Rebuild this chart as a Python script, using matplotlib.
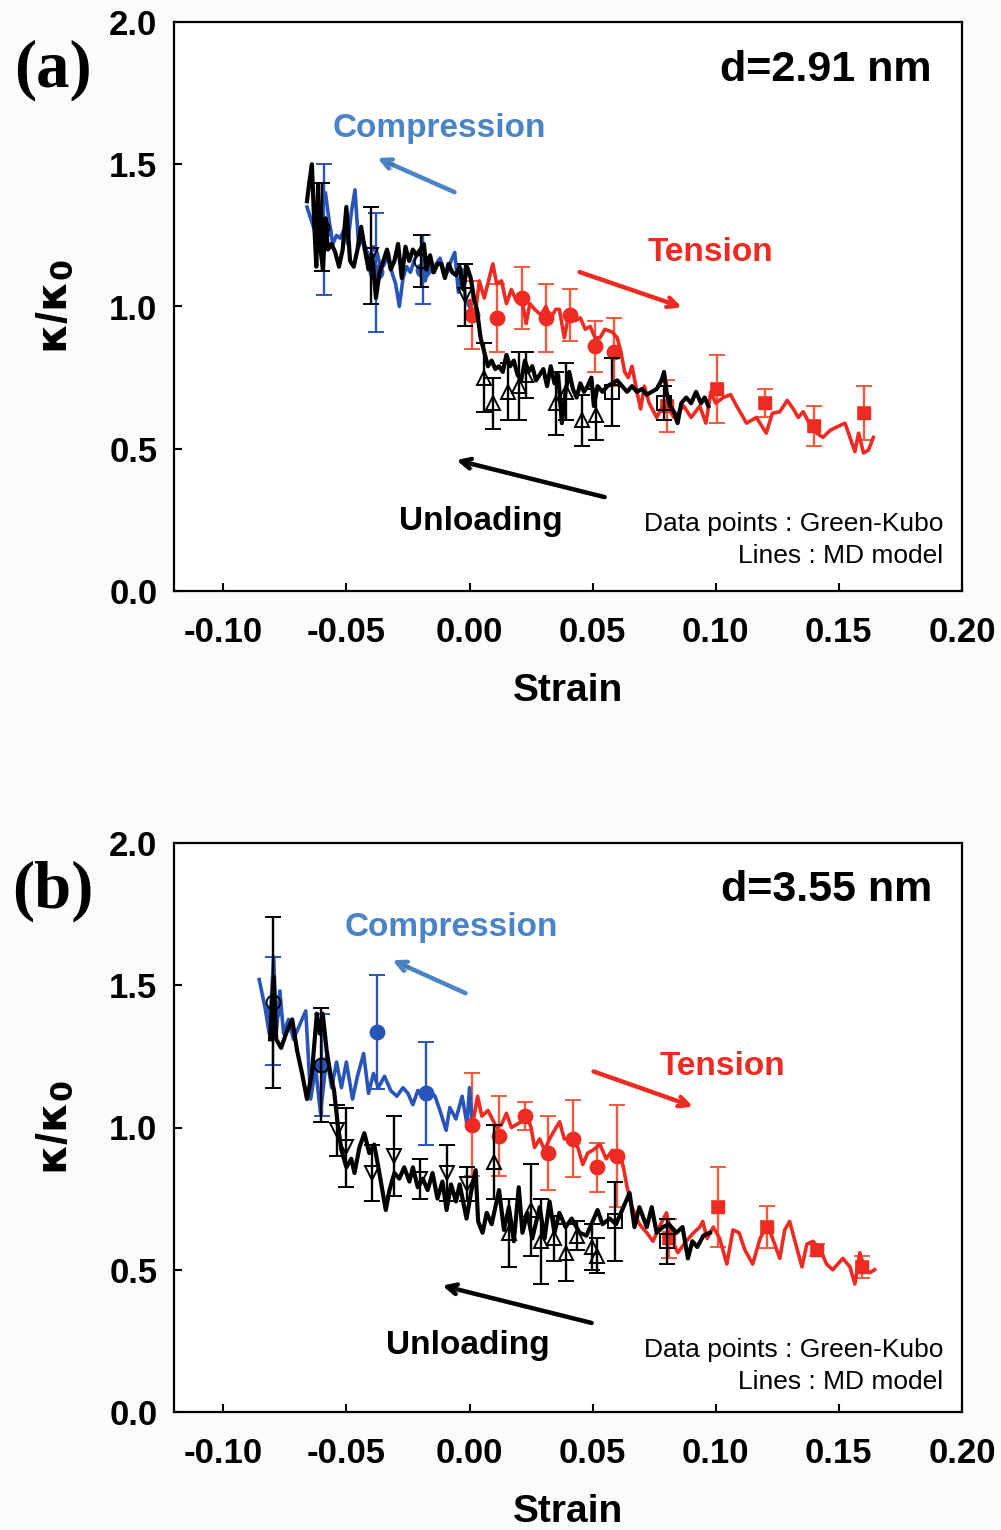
import matplotlib
matplotlib.use('Agg')
import matplotlib.pyplot as plt
import matplotlib.patheffects as pe

plt.rcParams['font.family'] = ['Liberation Sans', 'DejaVu Sans']

# ---------------- panel (a), d = 2.91 nm ----------------
blue_a_x = [-0.066, -0.0645, -0.063, -0.0615, -0.060, -0.0585, -0.057, -0.0555, -0.054, -0.0525,
            -0.051, -0.0495, -0.048, -0.0465, -0.045, -0.0435, -0.042, -0.0405, -0.039, -0.0375,
            -0.036, -0.0345, -0.033, -0.0315, -0.030, -0.0285, -0.027, -0.0255, -0.024, -0.0225,
            -0.021, -0.0195, -0.018, -0.0165, -0.015, -0.0135, -0.012, -0.0105, -0.009, -0.0075,
            -0.006, -0.0045, -0.003, -0.0015, 0.0]
blue_a_y = [1.35, 1.31, 1.27, 1.26, 1.33, 1.40, 1.30, 1.22, 1.25, 1.24,
            1.27, 1.22, 1.33, 1.41, 1.21, 1.24, 1.20, 1.17, 1.21, 1.19,
            1.13, 1.15, 1.19, 1.12, 1.08, 1.00, 1.10, 1.14, 1.12, 1.16,
            1.19, 1.18, 1.09, 1.14, 1.12, 1.15, 1.17, 1.13, 1.12, 1.16,
            1.19, 1.05, 1.13, 1.02, 1.00]

black_a_x = [-0.0660, -0.0650, -0.0640, -0.0630, -0.0622, -0.0615, -0.0605, -0.0595, -0.0585, -0.0575,
             -0.0560, -0.0545, -0.0530, -0.0515, -0.0500, -0.0485, -0.0470, -0.0455, -0.0440, -0.0425,
             -0.0410, -0.0395, -0.0380, -0.0365, -0.0350, -0.0335, -0.0320, -0.0305, -0.0290, -0.0275,
             -0.0260, -0.0245, -0.0230, -0.0215, -0.0200, -0.0185, -0.0175, -0.0160, -0.0145, -0.0130,
             -0.0115, -0.0100, -0.0085, -0.0070, -0.0055, -0.0040, -0.0025, -0.0010, 0.0005, 0.0020,
             0.0030, 0.0045, 0.0060, 0.0075, 0.0090, 0.0105, 0.0120, 0.0135, 0.0150, 0.0165,
             0.0180, 0.0195, 0.0210, 0.0225, 0.0240, 0.0255, 0.0270, 0.0285, 0.0300, 0.0315,
             0.0330, 0.0345, 0.0360, 0.0375, 0.0390, 0.0405, 0.0420, 0.0435, 0.0450, 0.0465,
             0.0480, 0.0495, 0.0505, 0.0520, 0.0540, 0.0560, 0.0580, 0.0600, 0.0620, 0.0640,
             0.0660, 0.0680, 0.0700, 0.0720, 0.0740, 0.0760, 0.0780, 0.0790, 0.0800, 0.0815,
             0.0830, 0.0845, 0.0860, 0.0880, 0.0900, 0.0920, 0.0940, 0.0955, 0.0970]
black_a_y = [1.37, 1.44, 1.50, 1.28, 1.14, 1.43, 1.20, 1.13, 1.31, 1.20,
             1.22, 1.19, 1.14, 1.20, 1.35, 1.16, 1.14, 1.20, 1.28, 1.20,
             1.13, 1.18, 1.03, 1.12, 1.16, 1.20, 1.13, 1.16, 1.22, 1.10,
             1.21, 1.16, 1.20, 1.18, 1.20, 1.22, 1.13, 1.18, 1.12, 1.15,
             1.15, 1.10, 1.15, 1.12, 1.11, 1.14, 1.06, 1.14, 1.10, 1.02,
             0.99, 0.89, 0.84, 0.79, 0.81, 0.78, 0.79, 0.77, 0.83, 0.79,
             0.81, 0.76, 0.74, 0.81, 0.77, 0.79, 0.74, 0.76, 0.78, 0.72,
             0.79, 0.73, 0.76, 0.59, 0.70, 0.77, 0.71, 0.68, 0.73, 0.70,
             0.72, 0.75, 0.65, 0.72, 0.70, 0.72, 0.73, 0.74, 0.72, 0.70,
             0.72, 0.70, 0.71, 0.69, 0.70, 0.71, 0.74, 0.77, 0.70, 0.65,
             0.63, 0.59, 0.66, 0.68, 0.66, 0.70, 0.66, 0.68, 0.65]

red_a_x = [0.0000, 0.0020, 0.0040, 0.0060, 0.0080, 0.0095, 0.0110, 0.0130, 0.0150, 0.0170,
           0.0190, 0.0210, 0.0230, 0.0245, 0.0265, 0.0290, 0.0310, 0.0330, 0.0350, 0.0365,
           0.0385, 0.0405, 0.0430, 0.0450, 0.0470, 0.0490, 0.0510, 0.0530, 0.0550, 0.0580,
           0.0600, 0.0615, 0.0630, 0.0645, 0.0660, 0.0680, 0.0695, 0.0710, 0.0730, 0.0760,
           0.0790, 0.0810, 0.0830, 0.0870, 0.0900, 0.0935, 0.0960, 0.0980, 0.1000, 0.1030,
           0.1060, 0.1085, 0.1125, 0.1165, 0.1205, 0.1230, 0.1260, 0.1290, 0.1315, 0.1335,
           0.1355, 0.1380, 0.1410, 0.1435, 0.1465, 0.1500, 0.1525, 0.1545, 0.1565, 0.1580,
           0.1600, 0.1620, 0.1640]
red_a_y = [1.02, 0.95, 1.09, 1.03, 1.10, 1.15, 1.08, 1.09, 1.01, 1.06,
           1.02, 1.04, 0.94, 1.01, 0.99, 0.97, 1.00, 0.96, 0.99, 0.99,
           0.89, 0.98, 0.95, 0.96, 0.92, 0.93, 0.89, 0.89, 0.92, 0.91,
           0.89, 0.84, 0.77, 0.75, 0.79, 0.70, 0.64, 0.72, 0.66, 0.61,
           0.66, 0.64, 0.61, 0.65, 0.61, 0.65, 0.59, 0.70, 0.66, 0.68,
           0.69, 0.65, 0.59, 0.61, 0.555, 0.625, 0.63, 0.67, 0.64, 0.61,
           0.63, 0.59, 0.555, 0.54, 0.565, 0.58, 0.59, 0.54, 0.49, 0.555,
           0.485, 0.495, 0.54]

# Green-Kubo points (a)
comp_a_x = [-0.059, -0.038, -0.019]
comp_a_y = [1.27, 1.12, 1.13]
comp_a_err = [0.23, 0.21, 0.12]

unl_a_circ_x = [-0.060, -0.0195]
unl_a_circ_y = [1.28, 1.16]
unl_a_circ_err = [0.155, 0.09]
unl_a_dtri_x = [-0.040, -0.002]
unl_a_dtri_y = [1.18, 1.04]
unl_a_dtri_err = [0.17, 0.11]
unl_a_utri_x = [0.006, 0.0095, 0.0155, 0.020, 0.023, 0.035, 0.039, 0.0455, 0.0515]
unl_a_utri_y = [0.75, 0.66, 0.70, 0.72, 0.76, 0.66, 0.70, 0.60, 0.62]
unl_a_utri_err = [0.12, 0.09, 0.10, 0.12, 0.08, 0.11, 0.10, 0.09, 0.09]
unl_a_sq_x = [0.058, 0.079]
unl_a_sq_y = [0.70, 0.66]
unl_a_sq_err = [0.12, 0.06]

tens_a_circ_x = [0.001, 0.011, 0.0215, 0.031, 0.041, 0.051, 0.0585]
tens_a_circ_y = [0.97, 0.96, 1.03, 0.96, 0.97, 0.86, 0.84]
tens_a_circ_err = [0.12, 0.12, 0.11, 0.12, 0.09, 0.09, 0.12]
tens_a_sq_x = [0.080, 0.1004, 0.120, 0.140, 0.160]
tens_a_sq_y = [0.65, 0.71, 0.66, 0.58, 0.625]
tens_a_sq_err = [0.09, 0.12, 0.05, 0.07, 0.095]

# ---------------- panel (b), d = 3.55 nm ----------------
blue_b_x = [-0.0854, -0.0830, -0.0813, -0.0795, -0.0785, -0.0770, -0.0755, -0.0735, -0.0715, -0.0690,
            -0.0665, -0.0645, -0.0625, -0.0605, -0.0580, -0.0560, -0.0540, -0.0520, -0.0500, -0.0475,
            -0.0455, -0.0430, -0.0410, -0.0390, -0.0370, -0.0345, -0.0320, -0.0295, -0.0270, -0.0250,
            -0.0230, -0.0210, -0.0185, -0.0165, -0.0140, -0.0120, -0.0095, -0.0080, -0.0055, -0.0030,
            -0.0010, 0.0000, 0.0012, 0.0024]
blue_b_y = [1.52, 1.42, 1.33, 1.60, 1.33, 1.48, 1.33, 1.38, 1.31, 1.36,
            1.41, 1.10, 1.21, 1.05, 1.25, 1.14, 1.23, 1.14, 1.23, 1.10,
            1.18, 1.26, 1.12, 1.19, 1.14, 1.18, 1.13, 1.11, 1.14, 1.12,
            1.08, 1.13, 1.10, 1.13, 1.11, 1.06, 0.99, 1.07, 1.03, 1.11,
            1.01, 1.14, 1.01, 1.00]

black_b_x = [-0.0810, -0.0795, -0.0785, -0.0765, -0.0745, -0.0720, -0.0700, -0.0680, -0.0660, -0.0640,
             -0.0620, -0.0608, -0.0596, -0.0580, -0.0565, -0.0550, -0.0535, -0.0520, -0.0500, -0.0480,
             -0.0467, -0.0447, -0.0427, -0.0407, -0.0387, -0.0366, -0.0340, -0.0325, -0.0305, -0.0285,
             -0.0265, -0.0244, -0.0230, -0.0210, -0.0190, -0.0170, -0.0150, -0.0130, -0.0110, -0.0093,
             -0.0075, -0.0055, -0.0040, -0.0012, 0.0008, 0.0025, 0.0035, 0.0053, 0.0070, 0.0090,
             0.0120, 0.0140, 0.0160, 0.0180, 0.0200, 0.0215, 0.0235, 0.0255, 0.0285, 0.0305,
             0.0325, 0.0345, 0.0365, 0.0390, 0.0415, 0.0447, 0.0475, 0.0500, 0.0520, 0.0540,
             0.0570, 0.0595, 0.0620, 0.0650, 0.0670, 0.0690, 0.0720, 0.0740, 0.0760, 0.0785,
             0.0810, 0.0840, 0.0865, 0.0887, 0.0905, 0.0925, 0.0950, 0.0976]
black_b_y = [1.31, 1.53, 1.31, 1.28, 1.33, 1.38, 1.27, 1.19, 1.10, 1.19,
             1.40, 1.33, 1.40, 1.27, 1.19, 1.13, 1.01, 0.92, 0.86, 0.89,
             0.84, 0.93, 0.98, 0.91, 0.94, 0.84, 0.71, 0.78, 0.84, 0.82,
             0.86, 0.81, 0.86, 0.79, 0.82, 0.78, 0.84, 0.75, 0.81, 0.71,
             0.80, 0.74, 0.80, 0.68, 0.78, 0.85, 0.67, 0.63, 0.70, 0.66,
             0.78, 0.64, 0.72, 0.60, 0.79, 0.63, 0.70, 0.61, 0.72, 0.61,
             0.74, 0.63, 0.70, 0.65, 0.68, 0.63, 0.62, 0.67, 0.71, 0.66,
             0.68, 0.66, 0.71, 0.77, 0.65, 0.72, 0.65, 0.72, 0.63, 0.65,
             0.66, 0.63, 0.65, 0.54, 0.60, 0.58, 0.62, 0.63]

red_b_x = [0.0010, 0.0033, 0.0050, 0.0075, 0.0110, 0.0130, 0.0150, 0.0170, 0.0190, 0.0210,
           0.0230, 0.0250, 0.0264, 0.0285, 0.0305, 0.0325, 0.0345, 0.0366, 0.0385, 0.0415,
           0.0440, 0.0460, 0.0480, 0.0500, 0.0530, 0.0555, 0.0580, 0.0610, 0.0625, 0.0640,
           0.0660, 0.0690, 0.0720, 0.0745, 0.0770, 0.0800, 0.0825, 0.0846, 0.0880, 0.0910,
           0.0935, 0.0947, 0.0965, 0.0990, 0.1016, 0.1045, 0.1070, 0.1095, 0.1118, 0.1150,
           0.1180, 0.1210, 0.1235, 0.1260, 0.1280, 0.1300, 0.1325, 0.1350, 0.1370, 0.1395,
           0.1425, 0.1450, 0.1475, 0.1516, 0.1545, 0.1565, 0.1585, 0.1605, 0.1626, 0.1645]
red_b_y = [1.00, 1.11, 1.04, 1.06, 1.00, 1.01, 1.05, 1.00, 1.01, 1.02,
           1.05, 1.00, 0.93, 0.96, 0.92, 0.96, 0.99, 1.02, 0.96, 0.96,
           0.93, 0.87, 0.91, 0.92, 0.94, 0.89, 0.92, 0.91, 0.86, 0.79,
           0.72, 0.66, 0.63, 0.60, 0.65, 0.70, 0.60, 0.56, 0.60, 0.63,
           0.65, 0.67, 0.61, 0.65, 0.61, 0.52, 0.64, 0.63, 0.57, 0.52,
           0.61, 0.66, 0.60, 0.54, 0.64, 0.67, 0.59, 0.51, 0.59, 0.60,
           0.57, 0.52, 0.50, 0.54, 0.51, 0.45, 0.56, 0.50, 0.49, 0.50]

comp_b_x = [-0.080, -0.060, -0.0374, -0.0175]
comp_b_y = [1.41, 1.22, 1.335, 1.12]
comp_b_err = [0.19, 0.18, 0.20, 0.18]

unl_b_circ_x = [-0.0798, -0.0605]
unl_b_circ_y = [1.44, 1.22]
unl_b_circ_err = [0.30, 0.20]
unl_b_dtri_x = [-0.054, -0.050, -0.0394, -0.0305, -0.0203, -0.0093, -0.001]
unl_b_dtri_y = [0.99, 0.93, 0.84, 0.90, 0.82, 0.84, 0.80]
unl_b_dtri_err = [0.09, 0.14, 0.10, 0.14, 0.07, 0.10, 0.06]
unl_b_utri_x = [0.010, 0.016, 0.025, 0.029, 0.0345, 0.039, 0.0435, 0.0496, 0.0516]
unl_b_utri_y = [0.88, 0.63, 0.71, 0.60, 0.61, 0.56, 0.62, 0.58, 0.55]
unl_b_utri_err = [0.13, 0.12, 0.16, 0.15, 0.08, 0.10, 0.05, 0.08, 0.06]
unl_b_sq_x = [0.059, 0.080]
unl_b_sq_y = [0.67, 0.60]
unl_b_sq_err = [0.14, 0.08]

tens_b_circ_x = [0.001, 0.012, 0.0224, 0.0318, 0.042, 0.0516, 0.060]
tens_b_circ_y = [1.01, 0.97, 1.04, 0.91, 0.96, 0.86, 0.90]
tens_b_circ_err = [0.18, 0.14, 0.05, 0.13, 0.135, 0.085, 0.18]
tens_b_sq_x = [0.081, 0.101, 0.1207, 0.141, 0.1594]
tens_b_sq_y = [0.61, 0.72, 0.65, 0.57, 0.51]
tens_b_sq_err = [0.07, 0.14, 0.075, 0.02, 0.04]

xticks = [-0.10, -0.05, 0.00, 0.05, 0.10, 0.15, 0.20]
yticks = [0.0, 0.5, 1.0, 1.5, 2.0]

BLUE = '#2a55b8'
BLUE_TXT = '#4a84c6'
RED = '#ee2b22'
RED_BAR = '#f05a3e'
BLACK = '#000000'

W, H = 1001, 1530
fig = plt.figure(figsize=(W / 100, H / 100), dpi=100, facecolor='#fbfbfd')


def err(ax, x, y, e, color, marker, ms, filled, z):
    ax.errorbar(x, y, yerr=e, fmt=marker, color=color, ecolor=color, elinewidth=1.7,
                capsize=6, capthick=1.7, markersize=ms,
                markerfacecolor=color if filled else 'none',
                markeredgecolor=color, markeredgewidth=1.4, zorder=z)


def arrow(ax, tail, head, color):
    ax.annotate('', xy=head, xytext=tail, xycoords='data',
                arrowprops=dict(arrowstyle='->,head_length=0.7,head_width=0.35',
                                color=color, lw=3.2, shrinkA=0, shrinkB=0,
                                path_effects=[pe.withSimplePatchShadow(offset=(2, -2), alpha=0.25)]),
                zorder=6)


def panel(top_px, d_label, tag, blue, black, red, comp, unl, tens, ann):
    bottom_px = top_px + 569
    ax = fig.add_axes([174 / W, 1 - bottom_px / H, 788 / W, 569 / H])
    ax.set_facecolor('white')
    ax.set_xlim(-0.12, 0.20)
    ax.set_ylim(0.0, 2.0)
    ax.set_xticks(xticks)
    ax.set_yticks(yticks)
    ax.set_xticklabels(['%.2f' % v for v in xticks])
    ax.set_yticklabels(['%.1f' % v for v in yticks])
    ax.tick_params(direction='in', length=6, width=1.5, top=False, right=False)
    ax.tick_params(axis='x', pad=18, labelsize=25)
    ax.tick_params(axis='y', pad=12, labelsize=25)
    for lab in ax.get_xticklabels() + ax.get_yticklabels():
        lab.set_fontweight('bold')
    for s in ax.spines.values():
        s.set_linewidth(1.6)

    # MD model lines
    ax.plot(blue[0], blue[1], color=BLUE, lw=2.6, zorder=3)
    ax.plot(red[0], red[1], color=RED, lw=2.6, zorder=3)
    ax.plot(black[0], black[1], color=BLACK, lw=3.0, zorder=4)

    # Green-Kubo points
    err(ax, comp[0], comp[1], comp[2], BLUE, 'o', 10, True, 2)
    err(ax, tens[0][0], tens[0][1], tens[0][2], RED_BAR, 'o', 10, True, 2)
    err(ax, tens[1][0], tens[1][1], tens[1][2], RED_BAR, 's', 9, True, 2)
    ax.plot(tens[0][0], tens[0][1], 'o', color=RED, ms=10, zorder=3.5)
    ax.plot(tens[1][0], tens[1][1], 's', color=RED, ms=9, zorder=3.5)
    for (xs, ys, es), m in zip(unl, ['o', 'v', '^', 's']):
        err(ax, xs, ys, es, BLACK, m, 10, False, 5)

    ax.set_xlabel('Strain', fontsize=28, fontweight='bold')
    ax.xaxis.set_label_coords(0.5, -0.176)
    ax.xaxis.label.set_va('center')
    ax.set_ylabel(r'$\mathbf{\kappa}$/$\mathbf{\kappa}_{\mathbf{0}}$', fontsize=31,
                  fontweight='bold')
    ax.yaxis.set_label_coords(-0.151, 0.5)
    ax.yaxis.label.set_va('center')

    ax.text(0.1878, ann['d'], d_label, ha='right', va='center', fontsize=31,
            fontweight='bold', zorder=7)
    ax.text(ann['comp_txt'][0], ann['comp_txt'][1], 'Compression', color=BLUE_TXT,
            ha='center', va='center', fontsize=24, fontweight='bold', zorder=7)
    ax.text(ann['tens_txt'][0], ann['tens_txt'][1], 'Tension', color=RED,
            ha='center', va='center', fontsize=24, fontweight='bold', zorder=7)
    ax.text(ann['unl_txt'][0], ann['unl_txt'][1], 'Unloading', color=BLACK,
            ha='center', va='center', fontsize=24, fontweight='bold', zorder=7)
    arrow(ax, ann['comp_arr'][0], ann['comp_arr'][1], BLUE_TXT)
    arrow(ax, ann['tens_arr'][0], ann['tens_arr'][1], RED)
    arrow(ax, ann['unl_arr'][0], ann['unl_arr'][1], BLACK)
    ax.text(0.1923, ann['note'][0], 'Data points : Green-Kubo', ha='right', va='center',
            fontsize=19, zorder=7)
    ax.text(0.1923, ann['note'][1], 'Lines : MD model', ha='right', va='center',
            fontsize=19, zorder=7)

    fig.text(53 / W, 1 - (top_px + 48) / H, tag, ha='center', va='center',
             fontsize=48, fontweight='bold', family='Liberation Serif')
    return ax


panel(22, 'd=2.91 nm', '(a)',
      (blue_a_x, blue_a_y), (black_a_x, black_a_y), (red_a_x, red_a_y),
      (comp_a_x, comp_a_y, comp_a_err),
      [(unl_a_circ_x, unl_a_circ_y, unl_a_circ_err),
       (unl_a_dtri_x, unl_a_dtri_y, unl_a_dtri_err),
       (unl_a_utri_x, unl_a_utri_y, unl_a_utri_err),
       (unl_a_sq_x, unl_a_sq_y, unl_a_sq_err)],
      [(tens_a_circ_x, tens_a_circ_y, tens_a_circ_err),
       (tens_a_sq_x, tens_a_sq_y, tens_a_sq_err)],
      dict(d=1.831, comp_txt=(-0.0122, 1.627), tens_txt=(0.098, 1.19),
           unl_txt=(0.0045, 0.243),
           comp_arr=((-0.0061, 1.402), (-0.0374, 1.522)),
           tens_arr=((0.0447, 1.121), (0.0862, 0.998)),
           unl_arr=((0.0549, 0.330), (-0.0053, 0.460)),
           note=(0.235, 0.123)))

panel(843, 'd=3.55 nm', '(b)',
      (blue_b_x, blue_b_y), (black_b_x, black_b_y), (red_b_x, red_b_y),
      (comp_b_x, comp_b_y, comp_b_err),
      [(unl_b_circ_x, unl_b_circ_y, unl_b_circ_err),
       (unl_b_dtri_x, unl_b_dtri_y, unl_b_dtri_err),
       (unl_b_utri_x, unl_b_utri_y, unl_b_utri_err),
       (unl_b_sq_x, unl_b_sq_y, unl_b_sq_err)],
      [(tens_b_circ_x, tens_b_circ_y, tens_b_circ_err),
       (tens_b_sq_x, tens_b_sq_y, tens_b_sq_err)],
      dict(d=1.835, comp_txt=(-0.0073, 1.704), tens_txt=(0.1028, 1.215),
           unl_txt=(-0.0008, 0.232),
           comp_arr=((-0.0016, 1.472), (-0.0313, 1.588)),
           tens_arr=((0.0504, 1.197), (0.0907, 1.074)),
           unl_arr=((0.0496, 0.313), (-0.011, 0.444)),
           note=(0.218, 0.106)))

fig.savefig('out.png', dpi=100, facecolor=fig.get_facecolor())
